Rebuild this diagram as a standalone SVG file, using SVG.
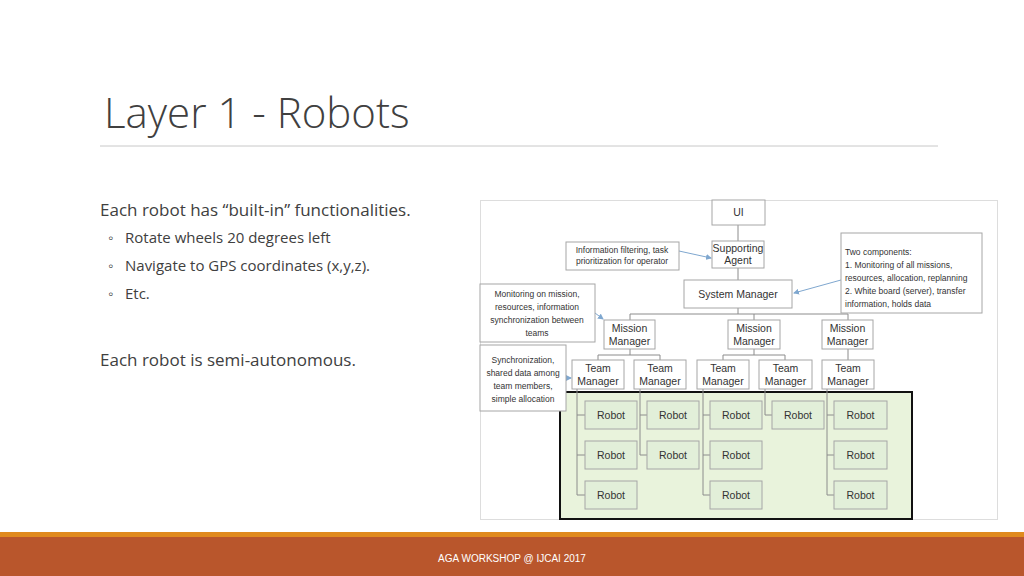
<svg xmlns="http://www.w3.org/2000/svg" width="1024" height="576" viewBox="0 0 1024 576">
<style>
.b{fill:#fff;stroke:#a6a6a6;stroke-width:1}
.r{fill:#e2efd9;stroke:#a6a6a6;stroke-width:1}
.t{font-family:"Liberation Sans Narrow","Liberation Sans",sans-serif;font-size:10.5px;fill:#333;text-anchor:middle}
.n{font-family:"Liberation Sans Narrow","Liberation Sans",sans-serif;font-size:8.5px;fill:#333;text-anchor:middle}
.l{fill:none;stroke:#8c8c8c;stroke-width:1}
.a{fill:none;stroke:#7fa7cf;stroke-width:1;marker-end:url(#ar)}
.s{font-family:"Open Sans","Liberation Sans",sans-serif;fill:#404040}
</style>
<defs><marker id="ar" markerWidth="6" markerHeight="6" refX="5" refY="3" orient="auto"><path d="M0,0L6,3L0,6z" fill="#7fa7cf"/></marker></defs>
<rect width="1024" height="576" fill="#fff"/>
<text x="104" y="128" class="s" font-size="42" font-weight="300">Layer 1 - Robots</text>
<line x1="100" y1="146" x2="938" y2="146" stroke="#c8c8c8"/>
<text x="100" y="216" class="s" font-size="17">Each robot has “built-in” functionalities.</text>
<g class="s" font-size="15"><text x="108" y="243">◦</text><text x="125" y="243">Rotate wheels 20 degrees left</text>
<text x="108" y="271">◦</text><text x="125" y="271">Navigate to GPS coordinates (x,y,z).</text>
<text x="108" y="299">◦</text><text x="125" y="299">Etc.</text></g>
<text x="100" y="366" class="s" font-size="17">Each robot is semi-autonomous.</text>
<rect x="480.5" y="200.5" width="517" height="319" fill="#fff" stroke="#ddd"/>
<rect x="560" y="392" width="352" height="127" fill="#e9f3dc" stroke="#111" stroke-width="2"/>
<g id="connectors">
<path class="l" d="M738,225V241M738,268V280M738,308V314M630,314H848M630,314V320M754,314V320M848,314V320"/>
<path class="l" d="M630,349V355M598,355H660M598,355V360M660,355V360M754,349V355M723,355H785M723,355V360M785,355V360M848,349V360"/>
<path class="l" d="M577,389V495M577,415H585M577,455H585M577,495H585"/>
<path class="l" d="M640,389V455M640,415H647M640,455H647"/>
<path class="l" d="M703,389V495M703,415H710M703,455H710M703,495H710"/>
<path class="l" d="M765,389V415H772"/>
<path class="l" d="M827,389V495M827,415H834M827,455H834M827,495H834"/>
<path class="a" d="M679,251L711,258"/>
<path class="a" d="M841,280L794,293"/>
<path class="a" d="M595,313L603,319"/>
<path class="a" d="M566,378L571,378"/>
</g>
<g id="ui"><rect class="b" x="712" y="200" width="53" height="25"/><text class="t" x="738.5" y="216">UI</text></g>
<g id="agent"><rect class="b" x="712" y="241" width="52" height="27"/><text class="t" x="738" y="252">Supporting</text><text class="t" x="738" y="264">Agent</text></g>
<g id="sysmgr"><rect class="b" x="684" y="280" width="108" height="28"/><text class="t" x="738" y="298">System Manager</text></g>
<g id="note1"><rect class="b" x="566" y="242" width="113" height="28"/><text class="n" x="622" y="253">Information filtering, task</text><text class="n" x="622" y="264">prioritization for operator</text></g>
<g id="note2"><rect class="b" x="841" y="233" width="141" height="80"/><g class="n" text-anchor="start" style="text-anchor:start"><text x="845" y="255">Two components:</text><text x="845" y="268">1. Monitoring of all missions,</text><text x="845" y="281">resources, allocation, replanning</text><text x="845" y="294">2. White board (server), transfer</text><text x="845" y="307">information, holds data</text></g></g>
<g id="note3"><rect class="b" x="480" y="284" width="115" height="58"/><text class="n" x="537" y="297">Monitoring on mission,</text><text class="n" x="537" y="310">resources, information</text><text class="n" x="537" y="323">synchronization between</text><text class="n" x="537" y="336">teams</text></g>
<g id="note4"><rect class="b" x="480" y="345" width="86" height="66"/><text class="n" x="523" y="363">Synchronization,</text><text class="n" x="523" y="376">shared data among</text><text class="n" x="523" y="389">team members,</text><text class="n" x="523" y="402">simple allocation</text></g>
<g id="mm1"><rect class="b" x="604" y="320" width="51" height="29"/><text class="t" x="629.5" y="332">Mission</text><text class="t" x="629.5" y="345">Manager</text></g>
<g id="mm2"><rect class="b" x="728" y="320" width="52" height="29"/><text class="t" x="754" y="332">Mission</text><text class="t" x="754" y="345">Manager</text></g>
<g id="mm3"><rect class="b" x="822" y="320" width="51" height="29"/><text class="t" x="847.5" y="332">Mission</text><text class="t" x="847.5" y="345">Manager</text></g>
<g id="tm1"><rect class="b" x="572" y="360" width="52" height="29"/><text class="t" x="598" y="372">Team</text><text class="t" x="598" y="385">Manager</text></g>
<g id="tm2"><rect class="b" x="634" y="360" width="52" height="29"/><text class="t" x="660" y="372">Team</text><text class="t" x="660" y="385">Manager</text></g>
<g id="tm3"><rect class="b" x="697" y="360" width="52" height="29"/><text class="t" x="723" y="372">Team</text><text class="t" x="723" y="385">Manager</text></g>
<g id="tm4"><rect class="b" x="759" y="360" width="53" height="29"/><text class="t" x="785.5" y="372">Team</text><text class="t" x="785.5" y="385">Manager</text></g>
<g id="tm5"><rect class="b" x="822" y="360" width="52" height="29"/><text class="t" x="848" y="372">Team</text><text class="t" x="848" y="385">Manager</text></g>
<g id="r11"><rect class="r" x="585" y="401" width="52" height="28"/><text class="t" x="611" y="419">Robot</text></g>
<g id="r12"><rect class="r" x="585" y="441" width="52" height="28"/><text class="t" x="611" y="459">Robot</text></g>
<g id="r13"><rect class="r" x="585" y="481" width="52" height="28"/><text class="t" x="611" y="499">Robot</text></g>
<g id="r21"><rect class="r" x="647" y="401" width="52" height="28"/><text class="t" x="673" y="419">Robot</text></g>
<g id="r22"><rect class="r" x="647" y="441" width="52" height="28"/><text class="t" x="673" y="459">Robot</text></g>
<g id="r31"><rect class="r" x="710" y="401" width="52" height="28"/><text class="t" x="736" y="419">Robot</text></g>
<g id="r32"><rect class="r" x="710" y="441" width="52" height="28"/><text class="t" x="736" y="459">Robot</text></g>
<g id="r33"><rect class="r" x="710" y="481" width="52" height="28"/><text class="t" x="736" y="499">Robot</text></g>
<g id="r41"><rect class="r" x="772" y="401" width="52" height="28"/><text class="t" x="798" y="419">Robot</text></g>
<g id="r51"><rect class="r" x="834" y="401" width="53" height="28"/><text class="t" x="860.5" y="419">Robot</text></g>
<g id="r52"><rect class="r" x="834" y="441" width="53" height="28"/><text class="t" x="860.5" y="459">Robot</text></g>
<g id="r53"><rect class="r" x="834" y="481" width="53" height="28"/><text class="t" x="860.5" y="499">Robot</text></g>
<rect x="0" y="532" width="1024" height="6" fill="#e08a1e"/>
<rect x="0" y="537" width="1024" height="39" fill="#b9562c"/>
<text x="512" y="562" font-family="Liberation Sans Narrow,Liberation Sans,sans-serif" font-size="10" fill="#fff" text-anchor="middle">AGA WORKSHOP @ IJCAI 2017</text>
</svg>
